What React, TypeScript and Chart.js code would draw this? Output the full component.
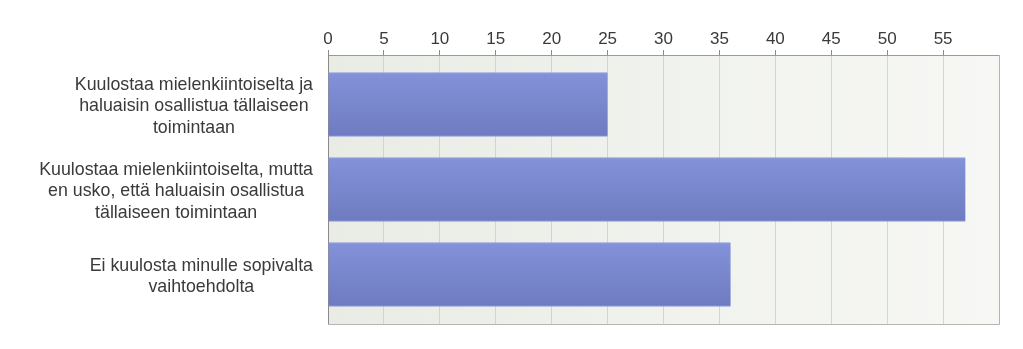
import { useEffect, useRef } from 'react';
import { Chart, registerables } from 'chart.js';

Chart.register(...registerables);

// Answer options (each split into its display lines) and response counts
const categories: string[][] = [
  ['Kuulostaa mielenkiintoiselta ja', 'haluaisin osallistua tällaiseen', 'toimintaan'],
  ['Kuulostaa mielenkiintoiselta, mutta', 'en usko, että haluaisin osallistua', 'tällaiseen toimintaan'],
  ['Ei kuulosta minulle sopivalta', 'vaihtoehdolta'],
];
const responses: number[] = [25, 57, 36];
const axisMax = 60;
const tickStep = 5;

const FONT_FAMILY = '"Liberation Sans", Arial, Helvetica, sans-serif';
const TEXT_COLOR = '#3a3a3a';

// Plot background, right/bottom frame and the centred multi-line category labels
const plotFrame = {
  id: 'plotFrame',
  beforeDraw(chart: any) {
    const { ctx, chartArea: a } = chart;
    const g = ctx.createLinearGradient(a.left, 0, a.right, 0);
    g.addColorStop(0, '#e9ece5');
    g.addColorStop(1, '#f7f8f5');
    ctx.save();
    ctx.fillStyle = g;
    ctx.fillRect(a.left, a.top, a.right - a.left, a.bottom - a.top);
    ctx.restore();
  },
  afterDraw(chart: any) {
    const { ctx, chartArea: a } = chart;
    const yScale = chart.scales.y;
    ctx.save();
    ctx.strokeStyle = '#b4b4b0';
    ctx.lineWidth = 1;
    ctx.beginPath();
    ctx.moveTo(a.left, a.bottom + 0.5);
    ctx.lineTo(a.right + 0.5, a.bottom + 0.5);
    ctx.lineTo(a.right + 0.5, a.top);
    ctx.stroke();

    ctx.font = `17.8px ${FONT_FAMILY}`;
    ctx.fillStyle = TEXT_COLOR;
    ctx.textAlign = 'center';
    ctx.textBaseline = 'middle';
    const lineH = 21.5;
    const rightEdge = a.left - 15;
    categories.forEach((lines, i) => {
      const yc = yScale.getPixelForValue(i) + 2;
      const widest = Math.max(...lines.map((l) => ctx.measureText(l).width));
      const cx = rightEdge - widest / 2;
      lines.forEach((line, j) => {
        ctx.fillText(line, cx, yc + (j - (lines.length - 1) / 2) * lineH);
      });
    });
    ctx.restore();
  },
};

export default function App() {
  const canvasRef = useRef<HTMLCanvasElement | null>(null);

  useEffect(() => {
    const canvas = canvasRef.current;
    if (!canvas) return;

    const barFill = (c: any) => {
      const chart = c.chart;
      if (!chart.chartArea || c.dataIndex === undefined) return '#7a88cd';
      const y = chart.scales.y.getPixelForValue(c.dataIndex);
      const g = chart.ctx.createLinearGradient(0, y - 32, 0, y + 32);
      g.addColorStop(0, '#8392d9');
      g.addColorStop(1, '#6e7bc0');
      return g;
    };

    const chart = new Chart(canvas, {
      type: 'bar',
      data: {
        datasets: [
          {
            data: responses.map((v, i) => ({ x: v, y: i })),
            backgroundColor: barFill,
            borderColor: '#8e9bdc',
            borderWidth: { top: 1, bottom: 1, left: 0, right: 0 },
            barThickness: 64,
          },
        ],
      },
      options: {
        indexAxis: 'y',
        animation: false,
        responsive: false,
        layout: { padding: { left: 0, right: 16, top: 0, bottom: 17 } },
        plugins: {
          legend: { display: false },
          tooltip: { enabled: false },
        },
        scales: {
          x: {
            type: 'linear',
            position: 'top',
            min: 0,
            max: axisMax,
            afterFit: (s: any) => {
              s.height = 47;
            },
            ticks: {
              stepSize: tickStep,
              padding: 0,
              color: TEXT_COLOR,
              font: { family: FONT_FAMILY, size: 17 },
              callback: (v: any) => (v === axisMax ? '' : String(v)),
            },
            grid: {
              color: 'rgba(204,206,198,0.8)',
              tickColor: (c: any) => (c.tick && c.tick.value === axisMax ? 'rgba(0,0,0,0)' : '#8c8c8c'),
              tickLength: 5,
              lineWidth: 1,
            },
            border: { color: '#9a9a9a', width: 1 },
          },
          y: {
            type: 'linear',
            reverse: true,
            offset: false,
            bounds: 'data',
            grace: 0,
            min: -0.582,
            max: 2.582,
            afterFit: (s: any) => {
              s.width = 320;
            },
            ticks: { display: false, stepSize: 1, includeBounds: false },
            grid: { display: false, offset: false },
            border: { color: '#8a8a8a', width: 1 },
          },
        },
      },
      plugins: [plotFrame],
    });

    return () => chart.destroy();
  }, []);

  return <canvas ref={canvasRef} width={1007} height={333} style={{ display: 'block' }} />;
}
